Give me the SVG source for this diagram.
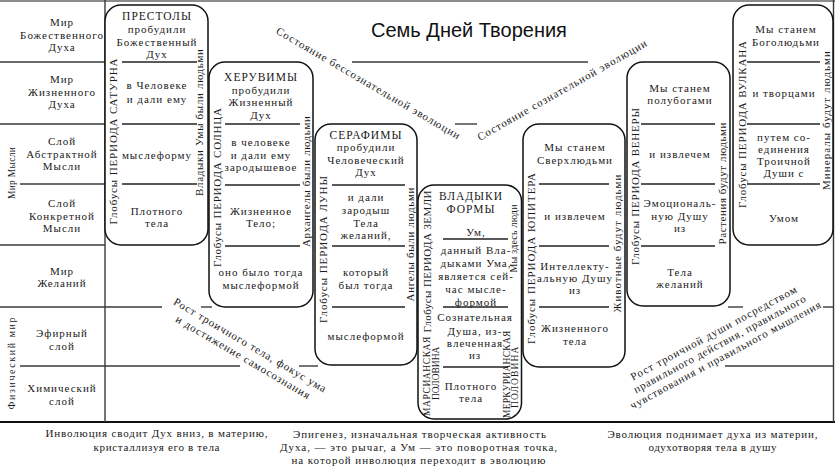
<svg xmlns="http://www.w3.org/2000/svg" width="835" height="469" viewBox="0 0 835 469">
<style>
.bg{fill:#fff}
.grid line{stroke:#3a3a3a;stroke-width:1.4}
.box{fill:#fff;stroke:#111;stroke-width:1.5}
.div{stroke:#222;stroke-width:1.3}
.t{font-family:"Liberation Serif","DejaVu Serif",serif;font-size:11px;letter-spacing:1px;fill:#1a1a1a;text-anchor:middle}
.h{font-size:11.5px}
.s{font-size:9.5px;letter-spacing:0.6px}
.m{font-size:10px}
.title{font-family:"Liberation Sans","DejaVu Sans",sans-serif;font-size:20px;fill:#111;text-anchor:middle}
</style>
<rect class="bg" x="0" y="0" width="835" height="469"/>

<g id="grid" class="grid">
<line x1="0" y1="1" x2="835" y2="1" style="stroke:#666"/>
<line x1="0" y1="422" x2="835" y2="422" style="stroke:#111;stroke-width:2"/>
<line x1="105" y1="0" x2="105" y2="422"/>
<line x1="833.5" y1="0" x2="833.5" y2="422"/>
<line x1="0" y1="62" x2="105" y2="62"/>
<line x1="352" y1="62" x2="588" y2="62"/>
<line x1="0" y1="124" x2="105" y2="124"/>
<line x1="455" y1="124" x2="477" y2="124"/>
<line x1="20" y1="184" x2="105" y2="184"/>
<line x1="0" y1="245" x2="105" y2="245"/>
<line x1="0" y1="307" x2="162" y2="307"/>
<line x1="201" y1="307" x2="212" y2="307"/>
<line x1="728" y1="307" x2="743" y2="307"/>
<line x1="823" y1="307" x2="834" y2="307"/>
<line x1="20" y1="366" x2="240" y2="366"/>
<line x1="299" y1="366" x2="318" y2="366"/>
<line x1="725" y1="366" x2="834" y2="366"/>
</g>

<g id="levels">
<text class="t" x="62" y="26">Мир</text>
<text class="t" x="62" y="39">Божественного</text>
<text class="t" x="62" y="51">Духа</text>
<text class="t" x="62" y="83">Мир</text>
<text class="t" x="62" y="96">Жизненного</text>
<text class="t" x="62" y="108">Духа</text>
<text class="t" x="62" y="145">Слой</text>
<text class="t" x="62" y="158">Абстрактной</text>
<text class="t" x="62" y="170">Мысли</text>
<text class="t" x="62" y="207">Слой</text>
<text class="t" x="62" y="220">Конкретной</text>
<text class="t" x="62" y="232">Мысли</text>
<text class="t" x="62" y="275">Мир</text>
<text class="t" x="62" y="287">Желаний</text>
<text class="t" x="62" y="337">Эфирный</text>
<text class="t" x="62" y="350">слой</text>
<text class="t" x="62" y="392">Химический</text>
<text class="t" x="62" y="405">слой</text>
<text class="t" transform="translate(15,173) rotate(-90)" style="font-size:9.5px;letter-spacing:0.3px">Мир Мысли</text>
<text class="t m" transform="translate(15,363) rotate(-90)" textLength="93">Физический мир</text>
</g>

<g id="title">
<text class="title" x="469" y="37">Семь Дней Творения</text>
</g>

<g id="saturn">
<rect class="box" x="105" y="5" width="103" height="240" rx="16"/>
<line class="div" x1="122" y1="62" x2="197" y2="62"/>
<line class="div" x1="122" y1="124" x2="197" y2="124"/>
<line class="div" x1="122" y1="184" x2="197" y2="184"/>
<text class="t h" x="157" y="20">ПРЕСТОЛЫ</text>
<text class="t" x="157" y="33">пробудили</text>
<text class="t" x="157" y="46">Божественный</text>
<text class="t" x="157" y="58">Дух</text>
<text class="t" x="157" y="89">в Человеке</text>
<text class="t" x="157" y="103">и дали ему</text>
<text class="t" x="157" y="159">мыслеформу</text>
<text class="t" x="157" y="215">Плотного</text>
<text class="t" x="157" y="227">тела</text>
<text class="t" transform="translate(117,141) rotate(-90)" textLength="167">Глобусы ПЕРИОДА САТУРНА</text>
<text class="t" transform="translate(203,122) rotate(-90)" textLength="148">Владыки Умы были людьми</text>
</g>

<g id="sun">
<rect class="box" x="209" y="62" width="104" height="245" rx="16"/>
<line class="div" x1="225" y1="124" x2="300" y2="124"/>
<line class="div" x1="225" y1="185" x2="300" y2="185"/>
<line class="div" x1="225" y1="246" x2="300" y2="246"/>
<text class="t h" x="261" y="81">ХЕРУВИМЫ</text>
<text class="t" x="261" y="94">пробудили</text>
<text class="t" x="261" y="106">Жизненный</text>
<text class="t" x="261" y="119">Дух</text>
<text class="t" x="261" y="146">в человеке</text>
<text class="t" x="261" y="159">и дали ему</text>
<text class="t" x="261" y="171">зародышевое</text>
<text class="t" x="261" y="215">Жизненное</text>
<text class="t" x="261" y="227">Тело;</text>
<text class="t" x="261" y="276">оно было тогда</text>
<text class="t" x="261" y="289">мыслеформой</text>
<text class="t" transform="translate(221,187) rotate(-90)" textLength="160">Глобусы ПЕРИОДА СОЛНЦА</text>
<text class="t" transform="translate(310,181) rotate(-90)" textLength="132">Архангелы были людьми</text>
</g>

<g id="moon">
<rect class="box" x="315" y="124" width="102" height="241" rx="16"/>
<line class="div" x1="332" y1="185" x2="405" y2="185"/>
<line class="div" x1="332" y1="246" x2="405" y2="246"/>
<line class="div" x1="332" y1="307" x2="405" y2="307"/>
<text class="t h" x="366" y="139">СЕРАФИМЫ</text>
<text class="t" x="366" y="151">пробудили</text>
<text class="t" x="366" y="164">Человеческий</text>
<text class="t" x="366" y="176">Дух</text>
<text class="t" x="366" y="201">и дали</text>
<text class="t" x="366" y="214">зародыш</text>
<text class="t" x="366" y="227">Тела</text>
<text class="t" x="366" y="239">желаний,</text>
<text class="t" x="366" y="276">который</text>
<text class="t" x="366" y="289">был тогда</text>
<text class="t" x="366" y="340">мыслеформой</text>
<text class="t" transform="translate(327,249) rotate(-90)" textLength="148">Глобусы ПЕРИОДА ЛУНЫ</text>
<text class="t" transform="translate(414,244) rotate(-90)" textLength="115">Ангелы были людьми</text>
</g>

<g id="earth">
<rect class="box" x="418" y="185" width="103.5" height="234" rx="16"/>
<line class="div" x1="443" y1="239" x2="508" y2="239"/>
<line class="div" x1="443" y1="307" x2="508" y2="307"/>
<line class="div" x1="443" y1="367" x2="508" y2="367"/>
<text class="t h" x="471" y="200">ВЛАДЫКИ</text>
<text class="t h" x="471" y="213">ФОРМЫ</text>
<text class="t" x="476" y="236">Ум,</text>
<text class="t" x="476" y="254">данный Вла-</text>
<text class="t" x="476" y="267">дыками Ума,</text>
<text class="t" x="476" y="280">является сей-</text>
<text class="t" x="476" y="293">час мысле-</text>
<text class="t" x="476" y="306">формой</text>
<text class="t" x="475" y="321">Сознательная</text>
<text class="t" x="475" y="335">Душа, из-</text>
<text class="t" x="475" y="347">влеченная</text>
<text class="t" x="475" y="359">из</text>
<text class="t" x="471" y="390">Плотного</text>
<text class="t" x="471" y="402">тела</text>
<text class="t" transform="translate(431,261) rotate(-90)" textLength="143">Глобусы ПЕРИОДА ЗЕМЛИ</text>
<text class="t s" transform="translate(430,376) rotate(-90)" textLength="80">МАРСИАНСКАЯ</text>
<text class="t s" transform="translate(439,373) rotate(-90)" textLength="54">ПОЛОВИНА</text>
<text class="t m" transform="translate(517,238) rotate(-90)" textLength="69">Мы здесь люди</text>
<text class="t s" transform="translate(510,374) rotate(-90)" textLength="88">МЕРКУРИАНСКАЯ</text>
<text class="t s" transform="translate(518,377) rotate(-90)" textLength="62">ПОЛОВИНА</text>
</g>

<g id="jupiter">
<rect class="box" x="523" y="124" width="102" height="243" rx="16"/>
<line class="div" x1="539" y1="184" x2="609" y2="184"/>
<line class="div" x1="539" y1="246" x2="609" y2="246"/>
<line class="div" x1="539" y1="307" x2="609" y2="307"/>
<text class="t" x="575" y="151">Мы станем</text>
<text class="t" x="575" y="164">Сверхлюдьми</text>
<text class="t" x="575" y="220">и извлечем</text>
<text class="t" x="575" y="270">Интеллекту-</text>
<text class="t" x="575" y="282">альную Душу</text>
<text class="t" x="575" y="294">из</text>
<text class="t" x="575" y="332">Жизненного</text>
<text class="t" x="575" y="345">тела</text>
<text class="t" transform="translate(535,258) rotate(-90)" textLength="172">Глобусы ПЕРИОДА ЮПИТЕРА</text>
<text class="t" transform="translate(621,243) rotate(-90)" textLength="139">Животные будут людьми</text>
</g>

<g id="venus">
<rect class="box" x="627" y="62" width="103" height="244" rx="16"/>
<line class="div" x1="641" y1="124" x2="715" y2="124"/>
<line class="div" x1="641" y1="184" x2="715" y2="184"/>
<line class="div" x1="641" y1="246" x2="715" y2="246"/>
<text class="t" x="680" y="92">Мы станем</text>
<text class="t" x="680" y="104">полубогами</text>
<text class="t" x="680" y="158">и извлечем</text>
<text class="t" x="680" y="207">Эмоциональ-</text>
<text class="t" x="680" y="220">ную Душу</text>
<text class="t" x="680" y="232">из</text>
<text class="t" x="680" y="276">Тела</text>
<text class="t" x="680" y="288">желаний</text>
<text class="t" transform="translate(639,186) rotate(-90)" textLength="158">Глобусы ПЕРИОДА ВЕНЕРЫ</text>
<text class="t" transform="translate(726,183) rotate(-90)" textLength="123">Растения будут людьми</text>
</g>

<g id="vulcan">
<rect class="box" x="733" y="5" width="100" height="240" rx="16"/>
<line class="div" x1="747" y1="62" x2="820" y2="62"/>
<line class="div" x1="747" y1="124" x2="820" y2="124"/>
<line class="div" x1="747" y1="184" x2="820" y2="184"/>
<text class="t" x="786" y="33">Мы станем</text>
<text class="t" x="786" y="46">Боголюдьми</text>
<text class="t" x="784" y="97">и творцами</text>
<text class="t" x="784" y="141">путем со-</text>
<text class="t" x="784" y="153">единения</text>
<text class="t" x="784" y="165">Троичной</text>
<text class="t" x="784" y="177">Души с</text>
<text class="t" x="784" y="222">Умом</text>
<text class="t" transform="translate(746,124) rotate(-90)" textLength="168">Глобусы ПЕРИОДА ВУЛКАНА</text>
<text class="t" transform="translate(830,120) rotate(-90)" textLength="140">Минералы будут людьми</text>
</g>

<g id="notes">
<text class="t" transform="translate(368.5,83.5) rotate(30.3)" y="3.5" textLength="212">Состояние бессознательной эволюции</text>
<text class="t" transform="translate(562.5,90) rotate(-29.6)" y="3.5" textLength="194">Состояние сознательной эволюции</text>
<g transform="translate(247,351) rotate(30.5)">
<text class="t" x="0" y="-3" textLength="176">Рост троичного тела, фокус ума</text>
<text class="t" x="0" y="11" textLength="155">и достижение самосознания</text>
</g>
<g transform="translate(720,344) rotate(-28.4)">
<text class="t" x="0" y="-9" textLength="188">Рост троичной души посредством</text>
<text class="t" x="0" y="3.5" textLength="195">правильного действия, правильного</text>
<text class="t" x="0" y="16" textLength="216">чувствования и правильного мышления</text>
</g>
<text class="t" x="157" y="437" textLength="223">Инволюция сводит Дух вниз, в материю,</text>
<text class="t" x="157" y="451" textLength="127">кристаллизуя его в тела</text>
<text class="t" x="420" y="438" textLength="254">Эпигенез, изначальная творческая активность</text>
<text class="t" x="419" y="451" textLength="278">Духа, — это рычаг, а Ум — это поворотная точка,</text>
<text class="t" x="419" y="464" textLength="255">на которой инволюция переходит в эволюцию</text>
<text class="t" x="713" y="438" textLength="211">Эволюция поднимает духа из материи,</text>
<text class="t" x="713" y="451" textLength="129">одухотворяя тела в душу</text>
</g>
</svg>
